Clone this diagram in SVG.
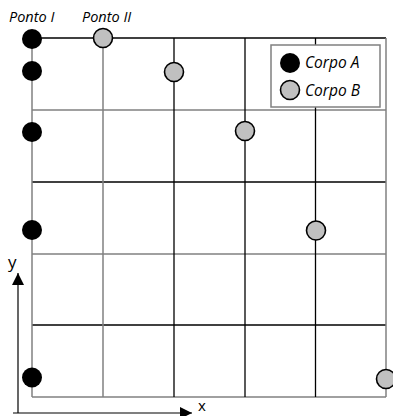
<svg xmlns="http://www.w3.org/2000/svg" width="393" height="416" viewBox="0 0 393 416">
<defs>
<style>
.gk{stroke:#000;stroke-width:1.3;fill:none}
.gg{stroke:#808080;stroke-width:1.5;fill:none}
.a{fill:#000}
.b{fill:#c0c0c0;stroke:#000;stroke-width:1.6}
.t{font-family:"Open Sans","Noto Sans",sans-serif;font-style:italic;font-size:14.5px;fill:#000}
.ax{font-family:"Open Sans","Noto Sans",sans-serif;font-size:17px;fill:#000}
</style>
<marker id="ar" viewBox="0 0 10 10" refX="10" refY="5" markerWidth="12" markerHeight="12" markerUnits="userSpaceOnUse" orient="auto"><path d="M0,0 L10,5 L0,10 z" fill="#000"/></marker>
</defs>
<rect width="393" height="416" fill="#fff"/>
<g id="grid">
<line class="gk" x1="32" y1="38" x2="386" y2="38"/>
<line class="gg" x1="32" y1="110" x2="386" y2="110"/>
<line class="gk" x1="32" y1="182" x2="386" y2="182"/>
<line class="gg" x1="32" y1="254" x2="386" y2="254"/>
<line class="gk" x1="32" y1="325" x2="386" y2="325"/>
<line class="gg" x1="32" y1="397" x2="386" y2="397"/>
<line class="gg" x1="32" y1="38" x2="32" y2="397"/>
<line class="gg" x1="103" y1="38" x2="103" y2="397"/>
<line class="gk" x1="174" y1="38" x2="174" y2="397" stroke="#333"/>
<line class="gk" x1="245" y1="38" x2="245" y2="397"/>
<line class="gk" x1="315.5" y1="38" x2="315.5" y2="397"/>
<line class="gg" x1="386" y1="38" x2="386" y2="397"/>
</g>
<g id="connectors">
<line x1="18" y1="413" x2="18" y2="273" stroke="#000" stroke-width="1.2" marker-end="url(#ar)"/>
<line x1="13" y1="413" x2="192" y2="413" stroke="#000" stroke-width="1.2" marker-end="url(#ar)"/>
</g>
<text class="ax" x="8" y="268">y</text>
<text class="ax" x="198" y="411" style="font-size:15px">x</text>
<text class="t" x="9" y="22">Ponto I</text>
<text class="t" x="82" y="22">Ponto II</text>
<g id="corpoA">
<circle class="a" cx="32" cy="39" r="10"/>
<circle class="a" cx="32" cy="71" r="10"/>
<circle class="a" cx="32" cy="132" r="10"/>
<circle class="a" cx="32" cy="230" r="10"/>
<circle class="a" cx="32" cy="377.5" r="10"/>
</g>
<g id="corpoB">
<circle class="b" cx="103" cy="38" r="9.5"/>
<circle class="b" cx="174" cy="72" r="9.5"/>
<circle class="b" cx="245" cy="131" r="9.5"/>
<circle class="b" cx="316" cy="230.5" r="9.5"/>
<circle class="b" cx="386" cy="379" r="9.5"/>
</g>
<g id="legend">
<rect x="271" y="45" width="109" height="62" fill="#fff" stroke="#808080" stroke-width="1.5"/>
<circle class="a" cx="290" cy="63" r="10"/>
<circle class="b" cx="290" cy="90" r="9.5"/>
<text class="t" x="305" y="68" style="font-size:15.5px">Corpo A</text>
<text class="t" x="305" y="96" style="font-size:15.5px">Corpo B</text>
</g>
</svg>
